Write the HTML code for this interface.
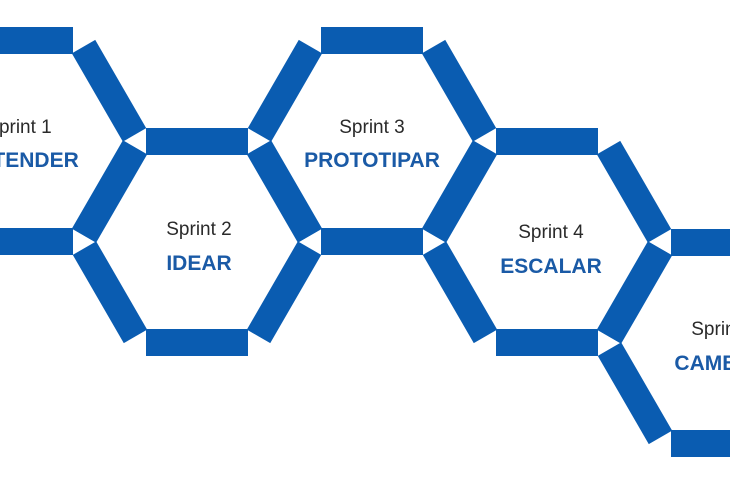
<!DOCTYPE html>
<html><head><meta charset="utf-8"><style>
html,body{margin:0;padding:0;background:#fff;}
svg{display:block}
.s{font-family:"Liberation Sans",sans-serif;font-size:19px;fill:#2a2a2a;text-anchor:middle}
.t{font-family:"Liberation Sans",sans-serif;font-size:21px;font-weight:bold;fill:#1a5aa6;text-anchor:middle}
</style></head><body>
<svg width="730" height="500" viewBox="0 0 730 500" xmlns="http://www.w3.org/2000/svg">
<defs>
<g id="hx" fill="#0a5cb1">
<rect x="-51" y="-114" width="102" height="27"/>
<rect x="-51" y="-114" width="102" height="27" transform="rotate(60)"/>
<rect x="-51" y="-114" width="102" height="27" transform="rotate(120)"/>
<rect x="-51" y="-114" width="102" height="27" transform="rotate(180)"/>
<rect x="-51" y="-114" width="102" height="27" transform="rotate(240)"/>
<rect x="-51" y="-114" width="102" height="27" transform="rotate(300)"/>
</g>
</defs>
<use href="#hx" transform="translate(22,141)"/>
<use href="#hx" transform="translate(197,242)"/>
<use href="#hx" transform="translate(372,141)"/>
<use href="#hx" transform="translate(547,242)"/>
<use href="#hx" transform="translate(722,343)"/>

<text class="s" x="19" y="133">Sprint 1</text>
<text class="t" x="21" y="167">ENTENDER</text>
<text class="s" x="199" y="235">Sprint 2</text>
<text class="t" x="199" y="270">IDEAR</text>
<text class="s" x="372" y="133">Sprint 3</text>
<text class="t" x="372" y="167">PROTOTIPAR</text>
<text class="s" x="551" y="238">Sprint 4</text>
<text class="t" x="551" y="273">ESCALAR</text>
<text class="s" x="724" y="335">Sprint 5</text>
<text class="t" x="724" y="370">CAMBIAR</text>
</svg>
</body></html>
